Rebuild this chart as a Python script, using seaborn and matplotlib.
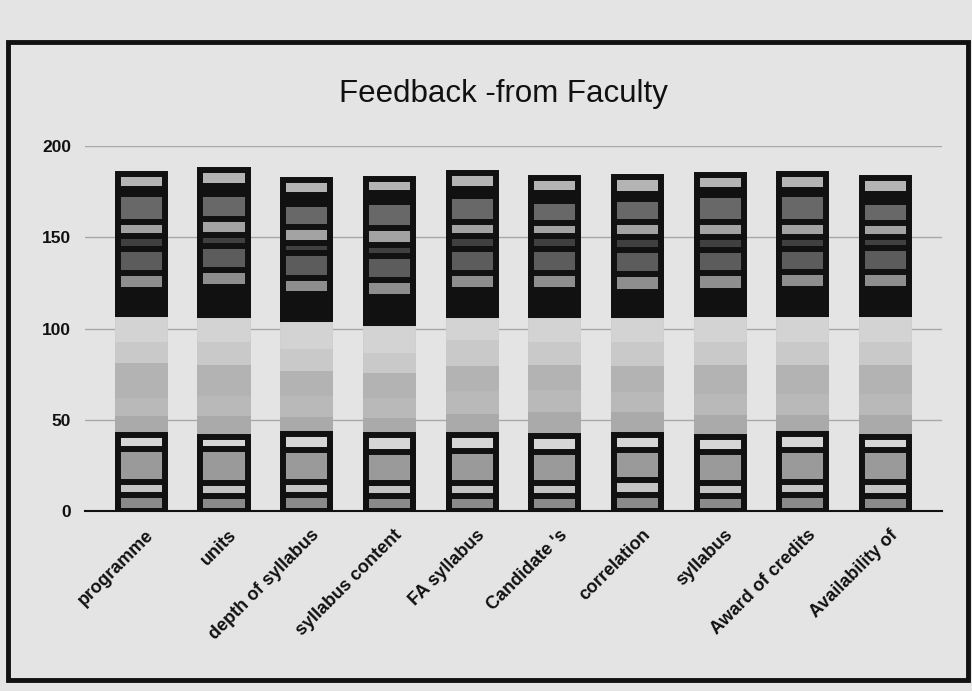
"""Feedback from Faculty - stacked bar chart (scanned printout look)"""
import numpy as np
import pandas as pd
import matplotlib
matplotlib.use("Agg")
import matplotlib.pyplot as plt
import seaborn as sns
from matplotlib.patches import Rectangle
from matplotlib.transforms import ScaledTranslation

categories = ["programme", "units", "depth of syllabus", "syllabus content", "FA syllabus",
              "Candidate 's", "correlation", "syllabus", "Award of credits", "Availability of"]

# stacked segments, bottom to top
low_stripe   = [8.5, 8.3, 8.6, 8.2, 8.4, 8.3, 8.9, 8.2, 8.6, 8.4]
low_band     = [7.3, 7.3, 7.2, 7.3, 7.2, 7.1, 7.9, 7.2, 7.2, 7.4]
low_block    = [18.2, 18.1, 17.6, 16.7, 17.5, 17.2, 16.4, 16.8, 17.8, 17.6]
light_stripe = [7.8, 7.1, 8.8, 9.2, 8.5, 8.5, 8.6, 8.6, 8.5, 7.4]
mid_1        = [8.8, 9.4, 7.9, 8.0, 10.1, 11.6, 10.9, 10.4, 9.1, 10.4]
mid_2        = [9.6, 11.0, 11.0, 11.0, 12.5, 12.0, 10.8, 11.0, 11.0, 11.0]
mid_3        = [19.0, 17.0, 13.8, 13.7, 13.7, 13.7, 14.5, 16.0, 16.0, 16.0]
mid_4        = [12.0, 13.0, 12.0, 11.0, 14.3, 12.8, 13.2, 13.0, 13.0, 13.0]
mid_5        = [13.4, 13.0, 14.9, 14.8, 12.0, 13.0, 13.0, 13.4, 13.5, 13.2]
dark_base    = [16.6, 18.7, 17.0, 17.4, 16.9, 17.0, 16.0, 16.2, 17.2, 17.1]
pill_1       = [9.1, 9.3, 9.0, 9.1, 9.2, 9.0, 9.8, 9.4, 9.1, 9.3]
block_1      = [13.5, 12.9, 13.4, 13.2, 13.2, 13.6, 13.0, 13.0, 12.8, 13.1]
dark_thin    = [7.0, 6.2, 5.4, 5.9, 7.2, 6.8, 7.2, 7.0, 6.5, 6.2]
pill_2       = [7.7, 8.5, 9.1, 9.6, 7.8, 7.3, 8.0, 8.1, 8.0, 7.9]
block_2      = [15.3, 14.0, 12.7, 14.1, 14.2, 11.8, 12.6, 14.6, 15.6, 11.2]
dark_gap     = [2.9, 4.5, 4.8, 4.8, 3.6, 4.5, 2.9, 2.8, 2.0, 4.3]
pill_3       = [8.0, 8.5, 8.2, 8.0, 8.7, 8.2, 9.1, 8.6, 8.6, 8.9]

segments = [low_stripe, low_band, low_block, light_stripe, mid_1, mid_2, mid_3, mid_4, mid_5,
            dark_base, pill_1, block_1, dark_thin, pill_2, block_2, dark_gap, pill_3]
colors = ["#8a8a8a", "#c4c4c4", "#9a9a9a", "#d6d6d6", "#aaaaaa", "#b9b9b9", "#b3b3b3",
          "#c9c9c9", "#d3d3d3", "#111111", "#8e8e8e", "#5c5c5c", "#404040", "#a3a3a3",
          "#686868", "#111111", "#b4b4b4"]
# photocopy turned most segment borders black, except in the light middle block
black_edge = [True, True, True, True, False, False, False, False, False,
              True, True, True, True, True, True, True, True]

PAPER = "#e4e4e4"

sns.set_theme(style="whitegrid")
plt.rcParams["font.family"] = ["Liberation Sans", "DejaVu Sans"]

fig = plt.figure(figsize=(9.72, 6.91), dpi=100, facecolor=PAPER)
ax = fig.add_axes([0.0875, 0.2605, 0.8815, 0.5282])
ax.set_facecolor(PAPER)

# cumulative layers, drawn tallest first so lower segments sit on top
cum = np.cumsum(np.array(segments), axis=0)
for i in range(len(segments) - 1, -1, -1):
    df = pd.DataFrame({"item": categories, "value": cum[i]})
    sns.barplot(
        data=df, x="item", y="value", order=categories,
        color=colors[i], saturation=1, width=0.57, errorbar=None,
        edgecolor="#111111" if black_edge[i] else colors[i],
        linewidth=4.3, ax=ax,
    )

ax.set_xlim(-0.68, 9.68)
ax.set_ylim(0, 200)
ax.set_yticks([0, 50, 100, 150, 200])
ax.set_xlabel("")
ax.set_ylabel("")

ax.grid(axis="y", color="#a8a8a8", linewidth=1)
ax.grid(axis="x", visible=False)
ax.set_axisbelow(True)
for side in ["left", "right", "top"]:
    ax.spines[side].set_visible(False)
ax.spines["bottom"].set_color("#111111")
ax.spines["bottom"].set_linewidth(1.5)

ax.tick_params(axis="y", length=0, pad=10, labelsize=12.5, labelcolor="#111111")
for lab in ax.get_yticklabels():
    lab.set_fontweight("bold")

ax.set_xticks(range(len(categories)))
ax.set_xticklabels(categories, rotation=45, ha="right", va="center",
                   rotation_mode="anchor", fontsize=13, fontweight="bold", color="#111111")
ax.tick_params(axis="x", length=0, pad=14)
shift = ScaledTranslation(0.10, -0.02, fig.dpi_scale_trans)
for lab in ax.get_xticklabels():
    lab.set_transform(lab.get_transform() + shift)

fig.text(503 / 972, 1 - 94 / 691, "Feedback -from Faculty", fontsize=22.5,
         ha="center", va="center", color="#111111")

# outer chart frame
fig.patches.append(Rectangle((8 / 972, 1 - 680 / 691), 960 / 972, 638 / 691,
                             transform=fig.transFigure, fill=False,
                             edgecolor="#111111", linewidth=3.5))

fig.savefig("out.png", dpi=100, facecolor=fig.get_facecolor())
plt.close(fig)
